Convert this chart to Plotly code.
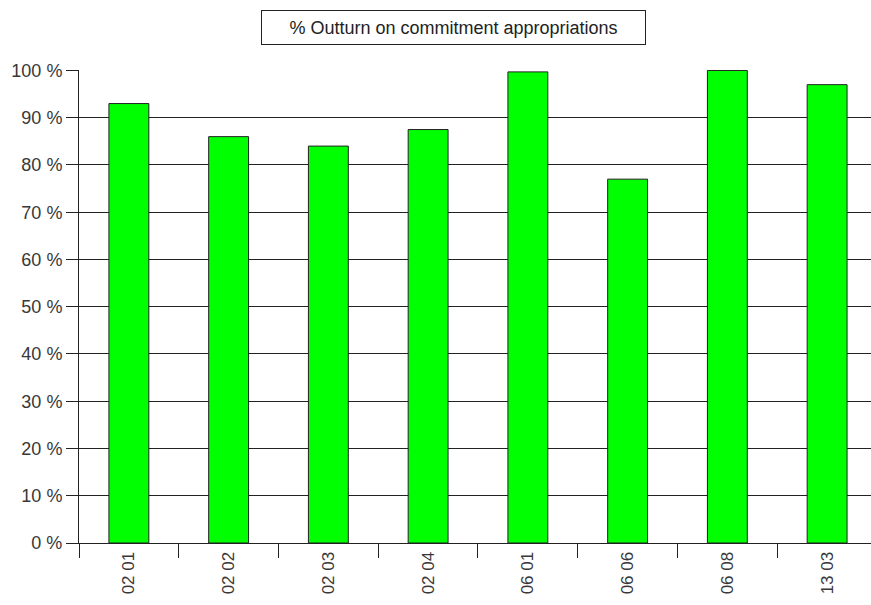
import plotly.graph_objects as go

categories = ["02 01", "02 02", "02 03", "02 04", "06 01", "06 06", "06 08", "13 03"]
outturn_pct = [93, 86, 84, 87.5, 99.7, 77, 100, 97]
y_ticks = [0, 10, 20, 30, 40, 50, 60, 70, 80, 90, 100]
title_text = "% Outturn on commitment appropriations"

W, H = 871, 605
L, R, T, B = 79, 0, 70, 62
pw, ph = W - L - R, H - T - B

fig = go.Figure(go.Bar(
    x=categories, y=outturn_pct,
    marker=dict(color="#00ff00", line=dict(color="#222222", width=1)),
    width=0.4,
))

font = dict(family="Liberation Sans, Arial, sans-serif", size=18, color="#383838")
xfont = dict(family="Liberation Sans, Arial, sans-serif", size=17, color="#383838")

fig.update_layout(
    width=W, height=H,
    margin=dict(l=L, r=R, t=T, b=B, pad=0),
    plot_bgcolor="white", paper_bgcolor="white",
    showlegend=False,
    font=font,
    xaxis=dict(
        type="category", automargin=False,
        range=[-0.5, len(categories) - 0.5 - 0.06],
        showline=True, linecolor="#222222", linewidth=1,
        ticks="outside", ticklen=14, tickcolor="#222222", tickwidth=1,
        tickson="boundaries", ticklabelstandoff=1,
        tickangle=-90, showgrid=False, zeroline=False,
        tickfont=xfont,
    ),
    yaxis=dict(
        automargin=False,
        range=[0, 100.1], tickmode="array", tickvals=y_ticks,
        ticktext=[f"{v} %" for v in y_ticks],
        showline=True, linecolor="#222222", linewidth=1,
        ticks="outside", ticklen=12, tickcolor="#222222", tickwidth=1,
        showgrid=True, gridcolor="#222222", gridwidth=1,
        zeroline=False, tickfont=font,
    ),
    annotations=[dict(
        text=title_text, xref="paper", yref="paper",
        x=(453 - L) / pw, y=1 + (T - 27.5) / ph,
        xanchor="center", yanchor="middle", showarrow=False,
        font=dict(family="Liberation Sans, Arial, sans-serif", size=18, color="#222222"),
        bordercolor="#222222", borderwidth=1, borderpad=0,
        width=383, height=33, bgcolor="white",
    )],
)

fig.write_html("out.html")
